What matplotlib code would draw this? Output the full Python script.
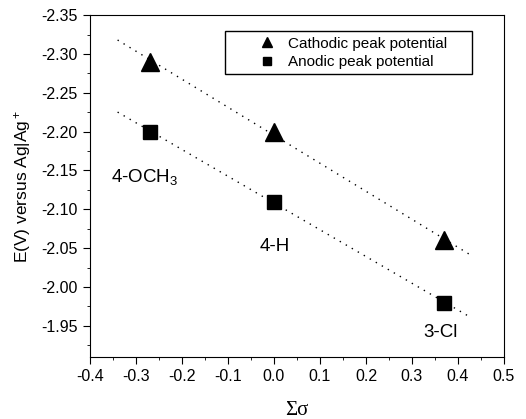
import matplotlib.pyplot as plt
import numpy as np
from matplotlib.ticker import MultipleLocator
from matplotlib.patches import Rectangle

plt.rcParams["font.family"] = ["Liberation Sans", "DejaVu Sans"]
plt.rcParams["axes.unicode_minus"] = False
plt.rcParams["mathtext.fontset"] = "custom"
plt.rcParams["mathtext.rm"] = "Liberation Sans"
plt.rcParams["mathtext.it"] = "Liberation Sans"

sigma = [-0.27, 0.0, 0.37]
cathodic = [-2.29, -2.20, -2.06]
anodic = [-2.20, -2.11, -1.98]
labels = ["4-OCH$_3$", "4-H", "3-Cl"]
label_pos = [(-0.355, -2.142), (-0.032, -2.052), (0.325, -1.941)]

fig = plt.figure(figsize=(5.26, 4.19), dpi=100)
ax = fig.add_axes([0.1711, 0.148, 0.787, 0.816])

ax.plot(sigma, cathodic, "k^", markersize=13, label="Cathodic peak potential")
ax.plot(sigma, anodic, "ks", markersize=9.5, label="Anodic peak potential")

# linear fits
xfit = np.array([-0.34, 0.43])
for y in (cathodic, anodic):
    p = np.polyfit(sigma, y, 1)
    ax.plot(xfit, np.polyval(p, xfit), color="k", linestyle=(0, (1, 4)), linewidth=1.0)

for t, (x, y) in zip(labels, label_pos):
    ax.text(x, y, t, fontsize=13.5, va="center")

ax.set_xlim(-0.4, 0.5)
ax.set_ylim(-1.91, -2.35)
ax.xaxis.set_major_locator(MultipleLocator(0.1))
ax.xaxis.set_minor_locator(MultipleLocator(0.05))
ax.set_yticks(np.arange(-2.35, -1.949, 0.05))
ax.yaxis.set_minor_locator(MultipleLocator(0.025))
ax.yaxis.set_major_formatter(plt.FuncFormatter(lambda v, _: f"{v:.2f}"))
ax.xaxis.set_major_formatter(plt.FuncFormatter(lambda v, _: f"{v:.1f}"))
ax.tick_params(which="both", direction="out", labelsize=11.5)
ax.tick_params(which="major", length=5, pad=4)
ax.tick_params(which="minor", length=2.5)

ax.set_xlabel("Σσ", fontfamily="Liberation Serif", fontsize=15, labelpad=12)
ax.set_ylabel("E(V) versus Ag|Ag$^+$", fontsize=12.5, labelpad=6)

# legend with its box
ax.add_patch(Rectangle((0.326, 0.8275), 0.597, 0.1255, transform=ax.transAxes,
                       fill=False, edgecolor="k", linewidth=1.0))
ax.legend(loc="upper left", bbox_to_anchor=(0.41, 0.937), borderaxespad=0,
          borderpad=0, fontsize=11, frameon=False, markerscale=0.6,
          handlelength=1.0, handletextpad=0.85, labelspacing=0.3)

fig.savefig("out.png", dpi=100)
